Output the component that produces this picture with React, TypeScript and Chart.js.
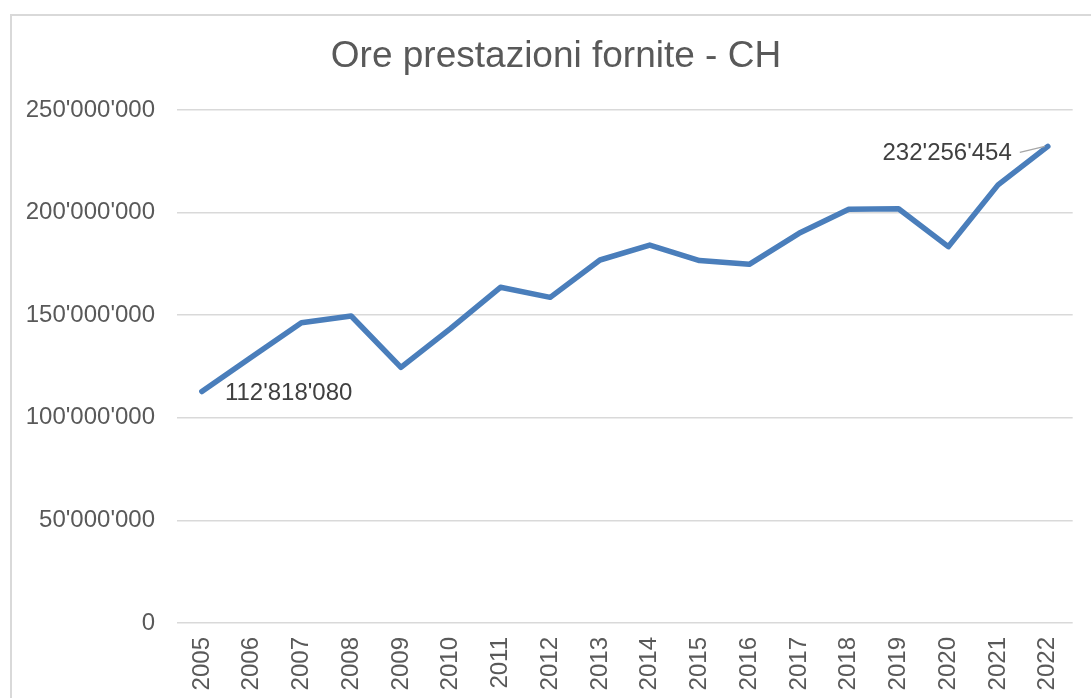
import React, { useEffect, useRef } from "react";
import { Chart, registerables } from "chart.js";

Chart.register(...registerables);

const TITLE = "Ore prestazioni fornite - CH";
const YEARS = [
  "2005", "2006", "2007", "2008", "2009", "2010", "2011", "2012", "2013",
  "2014", "2015", "2016", "2017", "2018", "2019", "2020", "2021", "2022",
];
const HOURS = [
  112818080, 129600000, 146300000, 149600000, 124600000, 143600000,
  163600000, 158700000, 176900000, 184200000, 176600000, 174800000,
  189900000, 201600000, 201900000, 183400000, 213500000, 232256454,
];
const Y_MIN = 0;
const Y_MAX = 250000000;
const Y_STEP = 50000000;
const LABELED_INDEXES = [0, HOURS.length - 1];

const FONT = "'Liberation Sans', Arial, sans-serif";

function fmt(v: number): string {
  return Math.round(v)
    .toString()
    .replace(/\B(?=(\d{3})+(?!\d))/g, "'");
}

const titlePlugin = {
  id: "frameTitle",
  afterDraw(chart: any) {
    const ctx = chart.ctx;
    ctx.save();
    ctx.font = `37px ${FONT}`;
    ctx.fillStyle = "#595959";
    ctx.textAlign = "center";
    ctx.textBaseline = "middle";
    ctx.fillText(TITLE, 556, 57);
    ctx.restore();
  },
};

const dataLabelPlugin = {
  id: "dataLabels",
  afterDatasetsDraw(chart: any) {
    const meta = chart.getDatasetMeta(0);
    const ctx = chart.ctx;
    ctx.save();
    ctx.font = `24px ${FONT}`;
    ctx.fillStyle = "#404040";
    ctx.textBaseline = "middle";
    const first = LABELED_INDEXES[0];
    const last = LABELED_INDEXES[1];
    const p0 = meta.data[first];
    if (p0) {
      ctx.textAlign = "left";
      ctx.fillText(fmt(HOURS[first]), p0.x + 23, p0.y + 2);
    }
    const p1 = meta.data[last];
    if (p1) {
      ctx.textAlign = "right";
      ctx.fillText(fmt(HOURS[last]), p1.x - 36, p1.y + 7);
      ctx.strokeStyle = "#a6a6a6";
      ctx.lineWidth = 1.2;
      ctx.beginPath();
      ctx.moveTo(p1.x - 28, p1.y + 6);
      ctx.lineTo(p1.x - 3, p1.y);
      ctx.stroke();
    }
    ctx.restore();
  },
};

const whiteBg = {
  id: "whiteBg",
  beforeDraw(chart: any) {
    const ctx = chart.ctx;
    ctx.save();
    ctx.fillStyle = "#ffffff";
    ctx.fillRect(0, 0, chart.width, chart.height);
    ctx.restore();
  },
};

export default function App() {
  const ref = useRef<HTMLCanvasElement | null>(null);

  useEffect(() => {
    if (!ref.current) return;
    const chart = new Chart(ref.current, {
      type: "line",
      data: {
        labels: YEARS,
        datasets: [
          {
            data: HOURS,
            borderColor: "#4a7ebb",
            borderWidth: 5.5,
            pointRadius: 0,
            pointHoverRadius: 0,
            tension: 0,
            fill: false,
            borderJoinStyle: "round",
            borderCapStyle: "round",
          },
        ],
      },
      options: {
        responsive: false,
        animation: false,
        devicePixelRatio: 1,
        layout: { padding: { top: 110, right: 14, bottom: 0, left: 0 } },
        plugins: {
          legend: { display: false },
          tooltip: { enabled: false },
          title: { display: false },
        },
        scales: {
          x: {
            type: "category",
            offset: true,
            grid: { display: false, drawTicks: false },
            border: { display: false },
            ticks: {
              color: "#595959",
              font: { family: FONT, size: 24 },
              maxRotation: 90,
              minRotation: 90,
              padding: 14,
              autoSkip: false,
            },
            afterFit(scale: any) {
              scale.height = 75;
            },
          },
          y: {
            min: Y_MIN,
            max: Y_MAX,
            grid: { color: "#d9d9d9", lineWidth: 1.5, drawTicks: false },
            border: { display: false },
            ticks: {
              stepSize: Y_STEP,
              color: "#595959",
              font: { family: FONT, size: 24 },
              padding: 22,
              callback: (v: any) => fmt(Number(v)),
            },
            afterFit(scale: any) {
              scale.width = 177;
            },
          },
        },
      },
      plugins: [whiteBg, dataLabelPlugin, titlePlugin],
    });
    return () => chart.destroy();
  }, []);

  return (
    <div
      style={{
        position: "fixed",
        left: 0,
        top: 0,
        width: 1091,
        height: 698,
        overflow: "hidden",
        background: "#ffffff",
      }}
    >
      <canvas
        ref={ref}
        width={1091}
        height={698}
        style={{ position: "absolute", left: 0, top: 0, width: 1091, height: 698 }}
      />
      <div
        style={{
          position: "absolute",
          left: 10,
          top: 14,
          width: 1200,
          height: 800,
          border: "2px solid #d9d9d9",
          boxSizing: "border-box",
          pointerEvents: "none",
        }}
      />
    </div>
  );
}
